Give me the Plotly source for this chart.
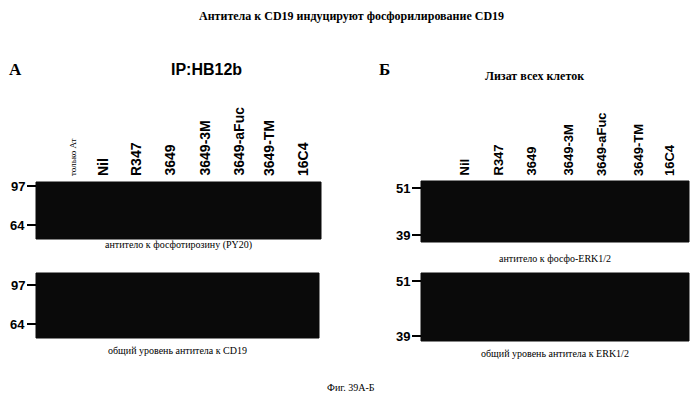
import plotly.graph_objects as go

lanes_a = ["только Ат", "Nil", "R347", "3649", "3649-3M", "3649-aFuc", "3649-TM", "16C4"]
lanes_a_x = [72, 102, 135, 168, 203, 237, 268, 302]
lanes_b = ["Nil", "R347", "3649", "3649-3M", "3649-aFuc", "3649-TM", "16C4"]
lanes_b_x = [463, 497, 530, 567, 600, 637, 668]

# blots: (x0, x1, y0, y1, caption, caption_y, marker labels, marker y)
blots = [
    (35, 320, 181, 238, "антитело к фосфотирозину (PY20)", 244, ["97", "64"], [185, 224]),
    (35, 318, 272, 337, "общий уровень антитела к CD19", 349, ["97", "64"], [284, 323]),
    (420, 688, 180, 241, "антитело к фосфо-ERK1/2", 257, ["51", "39"], [187, 234]),
    (420, 688, 272, 340, "общий уровень антитела к ERK1/2", 352, ["51", "39"], [280, 335]),
]

fig = go.Figure()
serif = "Liberation Serif"
sans = "Liberation Sans"

for x0, x1, y0, y1, cap, cap_y, marks, marks_y in blots:
    fig.add_trace(go.Scatter(x=[x0, x1, x1, x0, x0], y=[y0, y0, y1, y1, y0],
                             fill="toself", fillcolor="#0a0a0a", mode="lines",
                             line=dict(color="#0a0a0a", width=1), hoverinfo="skip"))
    fig.add_annotation(x=(x0 + x1) / 2, y=cap_y, text=cap, showarrow=False,
                       font=dict(family=serif, size=10, color="black"))
    for m, my in zip(marks, marks_y):
        fig.add_trace(go.Scatter(x=[x0 - 9, x0], y=[my, my], mode="lines",
                                 line=dict(color="black", width=2), hoverinfo="skip"))
        fig.add_annotation(x=x0 - 9, y=my, text="<b>" + m + "</b>", showarrow=False,
                           xanchor="right", font=dict(family=sans, size=13, color="black"))

for lab, lx in zip(lanes_a, lanes_a_x):
    small = lab == "только Ат"
    fig.add_annotation(x=lx, y=177, text=lab if small else "<b>" + lab + "</b>",
                       textangle=-90, showarrow=False, yanchor="bottom",
                       font=dict(family=serif if small else sans, size=9 if small else 14, color="black"))
for lab, lx in zip(lanes_b, lanes_b_x):
    fig.add_annotation(x=lx, y=177, text="<b>" + lab + "</b>", textangle=-90,
                       showarrow=False, yanchor="bottom",
                       font=dict(family=sans, size=13, color="black"))

texts = [
    (350, 15, "<b>Антитела к CD19 индуцируют фосфорилирование CD19</b>", serif, 12),
    (14, 68, "<b>A</b>", serif, 17),
    (205, 68, "<b>IP:HB12b</b>", sans, 16),
    (383, 68, "<b>Б</b>", serif, 17),
    (533, 75, "<b>Лизат всех клеток</b>", serif, 12),
    (350, 386, "Фиг. 39A-Б", serif, 10),
]
for tx, ty, t, f, s in texts:
    fig.add_annotation(x=tx, y=ty, text=t, showarrow=False,
                       font=dict(family=f, size=s, color="black"))

fig.update_layout(width=699, height=401, margin=dict(l=0, r=0, t=0, b=0),
                  plot_bgcolor="white", paper_bgcolor="white", showlegend=False)
fig.update_xaxes(range=[7, 706], visible=False)
fig.update_yaxes(range=[408, 7], visible=False)
fig.write_html("out.html")
